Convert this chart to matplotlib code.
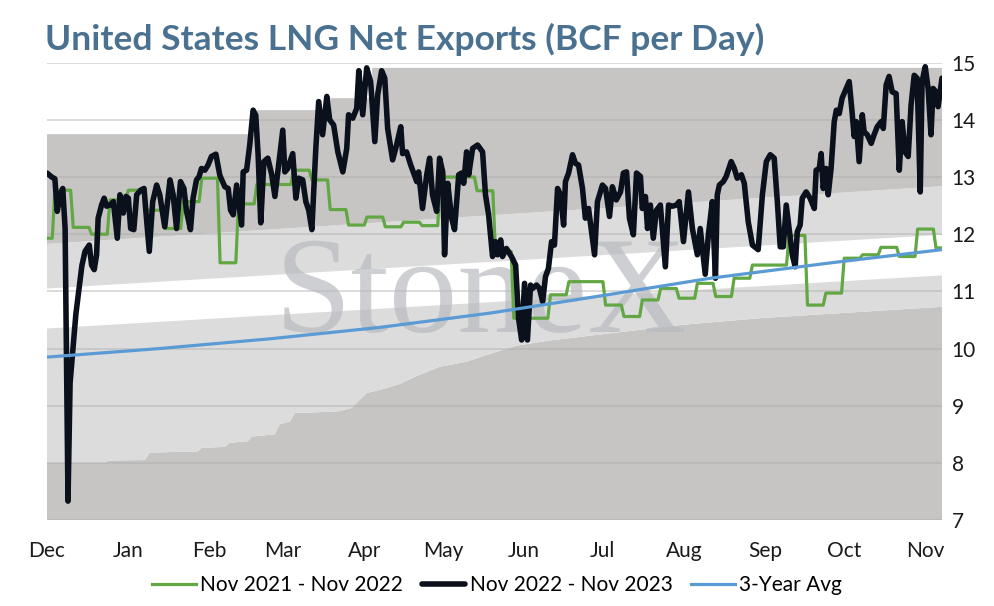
import matplotlib
matplotlib.use("Agg")
import matplotlib.pyplot as plt
import numpy as np

plt.rcParams['font.family'] = ['Lato', 'DejaVu Sans']

# days counted from Dec 1 (2022)
month_days = [0, 31, 62, 90, 121, 151, 182, 212, 243, 274, 304, 335]
month_labels = ['Dec', 'Jan', 'Feb', 'Mar', 'Apr', 'May', 'Jun', 'Jul', 'Aug', 'Sep', 'Oct', 'Nov']
x_end = 341.3

# Nov 2022 - Nov 2023 (daily)
cur_days = [0, 1.8, 3.0, 3.9, 5.0, 6.0, 6.9, 8.0, 8.8, 9.9, 11.0, 12.2, 13.3, 14.5, 16.1, 17.0,
            18.0, 18.9, 19.5, 20.8, 21.8, 22.7, 24.0, 25.3, 26.8, 27.8, 29.1, 30.1, 31.0, 31.9,
            33.1, 34.2, 35.7, 37.0, 37.7, 39.0, 40.3, 41.8, 43.0, 44.9, 46.9, 48.1, 49.4, 50.9,
            52.2, 53.2, 54.7, 55.7, 57.0, 58.0, 58.9, 60.2, 61.4, 62.7, 64.4, 65.9, 67.8, 69.1,
            70.0, 71.0, 72.3, 74.2, 74.8, 76.1, 77.3, 78.6, 79.6, 80.5, 81.5, 82.7, 84.2, 85.7,
            86.9, 88.0, 89.9, 90.7, 91.8, 93.7, 94.9, 96.0, 97.5, 98.7, 99.8, 101.0, 102.5, 103.6,
            105.1, 106.7, 107.8, 109.3, 110.9, 112.8, 114.3, 115.0, 116.6, 118.1, 118.9, 120.4,
            121.9, 123.4, 125.0, 126.1, 127.6, 128.8, 129.9, 131.8, 133.3, 134.9, 135.6, 137.1,
            138.7, 139.4, 141.0, 141.7, 143.2, 144.8, 145.9, 147.0, 148.6, 149.7, 150.9, 151.6,
            152.8, 154.3, 155.4, 157.0, 158.1, 158.9, 160.0, 160.8, 162.3, 164.2, 166.1, 167.2,
            168.4, 169.9, 171.0, 171.8, 173.0, 173.7, 175.2, 177.1, 178.7, 179.8, 181.0, 182.1,
            183.2, 184.4, 185.1, 186.7, 187.8, 189.0, 190.1, 191.2, 192.4, 193.5, 194.7, 195.8,
            197.0, 197.7, 198.9, 200.4, 201.5, 202.7, 204.2, 205.3, 206.5, 208.8, 209.9, 211.8,
            213.0, 214.5, 215.6, 217.1, 218.7, 219.8, 221.0, 222.1, 223.6, 224.8, 226.3, 227.0,
            228.2, 229.0, 230.1, 231.2, 232.4, 233.9, 235.8, 237.0, 238.5, 240.0, 241.1, 242.7,
            244.6, 246.1, 248.0, 249.1, 251.0, 252.2, 253.7, 254.9, 255.6, 256.4, 257.9, 259.0,
            260.9, 262.1, 263.2, 264.8, 265.9, 267.4, 269.0, 271.2, 272.8, 274.3, 275.8, 277.3,
            278.5, 279.6, 280.8, 281.9, 283.0, 284.2, 285.3, 286.1, 287.2, 288.0, 289.5, 291.0,
            292.6, 293.3, 294.5, 295.2, 296.0, 297.1, 297.9, 299.0, 300.2, 301.0, 302.1, 303.2,
            304.8, 305.9, 307.0, 307.8, 308.6, 309.7, 310.9, 311.6, 312.8, 314.3, 315.4, 316.6,
            318.1, 318.9, 320.0, 321.1, 322.3, 323.8, 325.0, 326.1, 327.2, 328.4, 329.5, 330.7,
            331.8, 333.0, 333.7, 334.9, 336.0, 337.1, 337.9, 339.0, 339.8, 341.3]
cur_vals = [13.07, 13.00, 12.97, 12.40, 12.69, 12.80, 12.10, 7.33, 9.40, 10.00, 10.60, 11.05, 11.45, 11.70, 11.81, 11.46,
            11.38, 11.64, 12.28, 12.51, 12.63, 12.49, 12.51, 12.57, 11.93, 12.69, 12.37, 12.66, 12.63, 12.10,
            12.08, 12.69, 12.77, 12.80, 12.40, 11.70, 12.57, 12.86, 12.69, 12.13, 12.95, 12.69, 12.10, 12.92,
            12.80, 12.40, 12.08, 12.63, 12.95, 13.01, 13.15, 13.12, 13.21, 13.36, 13.40, 13.03, 12.83, 12.80,
            12.42, 12.34, 12.86, 12.16, 13.09, 13.12, 13.56, 14.17, 14.08, 13.39, 12.20, 13.27, 13.33, 13.04,
            12.66, 13.09, 13.82, 13.09, 13.15, 13.41, 12.63, 12.98, 12.95, 12.57, 12.42, 12.08, 13.50, 14.32,
            13.74, 14.41, 14.00, 13.91, 13.44, 13.09, 13.50, 14.09, 14.03, 14.20, 14.86, 14.09,
            14.91, 14.67, 13.62, 14.44, 14.86, 14.73, 13.85, 13.30, 13.56, 13.88, 13.41, 13.44,
            13.21, 13.12, 12.92, 13.09, 12.45, 13.04, 13.33, 12.69, 12.40, 13.33, 13.09, 11.64,
            12.89, 12.28, 12.08, 13.04, 13.07, 12.89, 13.44, 13.04, 13.50, 13.56, 13.44, 12.69,
            12.34, 11.61, 11.87, 11.64, 11.90, 11.61, 11.75, 11.61, 11.46, 10.53, 10.15, 11.14,
            10.15, 11.11, 11.05, 11.11, 11.05, 10.82, 11.26, 11.40, 11.87, 11.81, 12.80, 12.69,
            12.16, 12.92, 13.07, 13.39, 13.24, 13.21, 12.80, 12.28, 12.45, 11.64, 12.57, 12.86,
            12.80, 12.31, 12.83, 12.60, 12.74, 13.07, 13.09, 12.28, 11.99, 13.07, 13.01, 12.45,
            12.66, 12.10, 12.51, 11.93, 12.42, 12.51, 11.43, 12.51, 12.49, 12.51, 12.57, 11.87,
            12.74, 12.10, 11.64, 12.10, 11.30, 11.99, 12.57, 11.23, 12.69, 12.86, 12.92, 13.01,
            13.27, 13.15, 12.98, 13.04, 12.89, 12.22, 11.81, 11.73, 12.69, 13.27, 13.39, 13.33,
            12.57, 11.78, 11.78, 12.51, 12.10, 11.64, 11.43, 12.04, 12.16, 12.63, 12.74, 12.63,
            12.45, 13.12, 13.15, 13.41, 12.80, 13.15, 12.69, 13.15, 13.97, 14.17, 14.11, 14.38,
            14.55, 14.67, 14.14, 13.71, 13.97, 13.27, 14.09, 13.79, 13.74, 13.59, 13.74, 13.88,
            13.97, 13.85, 14.61, 14.76, 14.49, 14.46, 13.12, 13.97, 13.44, 13.36, 14.26, 14.78,
            14.73, 12.74, 14.67, 14.93, 14.55, 13.74, 14.55, 14.49, 14.23, 14.73]

# Nov 2021 - Nov 2022 (weekly values, weeks start on day 3 + 7k; first value is the partial week before)
prev_week0 = -4
prev_vals = [11.93, 12.77, 12.12, 12.00, 12.60, 12.77, 12.42, 12.10, 12.57, 12.98, 11.50, 12.53,
             12.87, 12.87, 13.12, 12.95, 12.43, 12.16, 12.30, 12.13, 12.21, 12.15, 13.00, 13.00,
             12.76, 11.70, 10.53, 10.53, 10.94, 11.17, 11.17, 10.76, 10.56, 10.85, 11.05, 10.88,
             11.14, 10.91, 11.23, 11.46, 11.46, 11.98, 10.76, 10.97, 11.58, 11.64, 11.77, 11.61,
             12.09, 11.76]

# 3-year average
avg_days = [0, 43, 85, 127, 169, 211, 253, 299, 341.3]
avg_vals = [9.85, 10.00, 10.17, 10.37, 10.62, 10.92, 11.23, 11.50, 11.73]

# range bands
low_days = [0, 22.1, 23.6, 37.3, 39.2, 57.5, 59, 67.8, 69.7, 76.6, 78.1, 86.9, 88.8, 92.6, 94.5,
            110.9, 116.2, 119.2, 121.9, 128.8, 134.5, 141, 149.7, 160, 169.9, 179, 191.6, 215.6,
            241.1, 271.6, 341.3]
low_vals = [8.00, 8.00, 8.04, 8.05, 8.18, 8.20, 8.26, 8.28, 8.35, 8.38, 8.46, 8.50, 8.68, 8.72, 8.87,
            8.90, 8.96, 9.10, 9.22, 9.30, 9.38, 9.52, 9.68, 9.77, 9.92, 10.05, 10.14, 10.27,
            10.41, 10.53, 10.73]
band_days = [0, 341.3]
lower_mid = [10.35, 11.28]
upper_mid = [11.05, 11.99]
upper_edge = [11.83, 12.84]
max_breaks = [0, 80, 108, 124]
max_levels = [13.75, 14.17, 14.38, 14.91]

dark = '#c6c5c3'
light = '#dcdcdc'


def band(ax, xa, ya, xb, yb, color):
    xs = np.concatenate([np.asarray(xa, float), np.asarray(xb, float)[::-1]])
    ys = np.concatenate([np.asarray(ya, float), np.asarray(yb, float)[::-1]])
    ax.fill(xs, ys, color=color, lw=0, zorder=1)


fig = plt.figure(figsize=(9.94, 6.06), dpi=100)
ax = fig.add_axes([0.0473, 0.1419, 0.9004, 0.7546])

band(ax, [0, x_end], [7, 7], low_days, low_vals, dark)
band(ax, low_days, low_vals, band_days, lower_mid, light)
band(ax, band_days, upper_mid, band_days, upper_edge, light)
mx = []
my = []
edges = max_breaks[1:] + [x_end]
for s, e, v in zip(max_breaks, edges, max_levels):
    mx += [s, e]
    my += [v, v]
band(ax, band_days, upper_edge, mx, my, dark)

for yv in range(7, 16):
    ax.axhline(yv, color='#ababab', alpha=0.45, lw=1.3, zorder=2)

ax.text(0.485, 0.411, 'StoneX', transform=ax.transAxes, ha='center', va='baseline',
        fontsize=99, family=['Liberation Serif', 'DejaVu Serif'], color='#b9bbc0', alpha=0.7, zorder=3)

# weekly steps -> vertices
gx = []
gy = []
for k, v in enumerate(prev_vals):
    s = prev_week0 + 7 * k
    gx += [max(s, 0), min(s + 6, x_end)]
    gy += [v, v]

l1, = ax.plot(gx, gy, color='#62a744', lw=2.3, zorder=4, solid_joinstyle='round')
l2, = ax.plot(cur_days, cur_vals, color='#0a101c', lw=4.0, zorder=5,
              solid_joinstyle='round', solid_capstyle='round')
l3, = ax.plot(avg_days, avg_vals, color='#5b9bd5', lw=2.3, zorder=6)

ax.set_xlim(0, x_end)
ax.set_ylim(7, 15)
for sp in ax.spines.values():
    sp.set_visible(False)
ax.set_xticks(month_days)
ax.set_xticklabels(month_labels)
ax.set_yticks(range(7, 16))
ax.yaxis.tick_right()
ax.tick_params(axis='both', length=0, labelsize=15, labelcolor='#1a1a1a')
ax.tick_params(axis='x', pad=15)
ax.tick_params(axis='y', pad=7)

fig.text(45 / 994, 1 - 50 / 606, 'United States LNG Net Exports (BCF per Day)',
         fontsize=25.5, fontweight='bold', color='#4a7190', va='baseline', ha='left')

fig.legend([l1, l2, l3], ['Nov 2021 - Nov 2022', 'Nov 2022 - Nov 2023', '3-Year Avg'],
           loc='center', bbox_to_anchor=(0.5, 1 - 585 / 606), ncol=3, frameon=False,
           fontsize=15, handlelength=2.1, handletextpad=0.2, columnspacing=0.9)

fig.savefig('out.png', dpi=100)
